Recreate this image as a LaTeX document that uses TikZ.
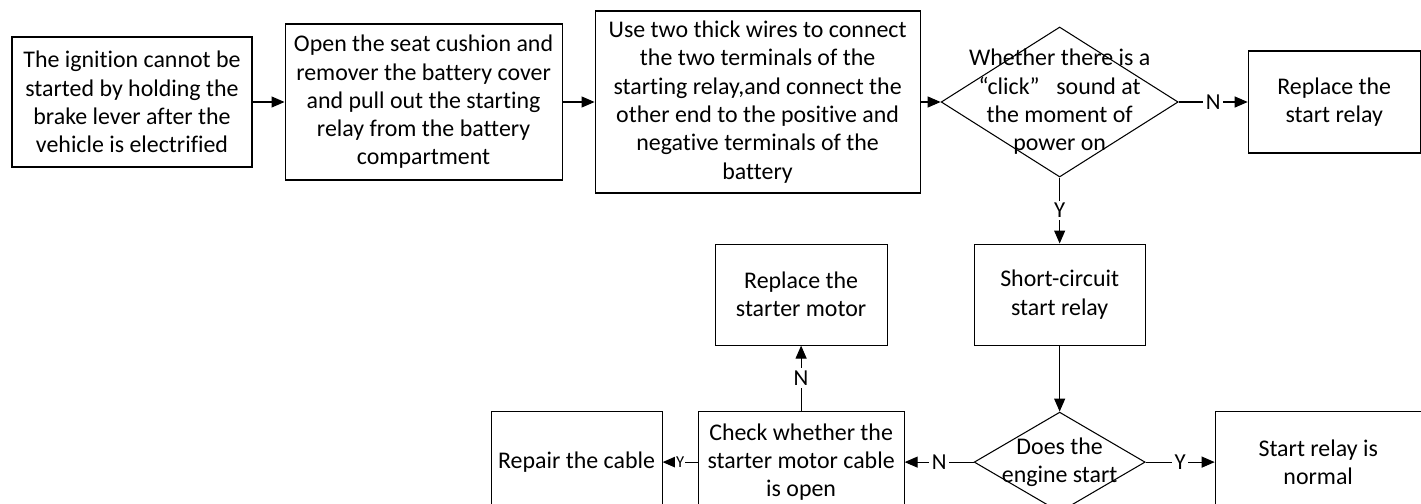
\documentclass[tikz,border=0pt]{standalone}
\usepackage{fontspec}
\setmainfont{Carlito}[Ligatures=CommonOff]
\usetikzlibrary{arrows.meta,positioning,shapes.geometric}
\newcommand{\boxfont}{\fontsize{13.6pt}{16.1pt}\selectfont}
\newcommand{\lblfont}{\fontsize{13pt}{15pt}\selectfont}
\newcommand{\smalllblfont}{\fontsize{9.5pt}{10pt}\selectfont}
\tikzset{
  procbox/.style={rectangle,draw=black,line width=0.6pt,align=center,font=\boxfont,inner sep=1pt},
  decision/.style={diamond,draw=black,line width=0.6pt,align=center,font=\boxfont,inner sep=-3cm},
  arrow/.style={-{Triangle[length=2.6mm,width=2.2mm]},line width=0.6pt,draw=black},
  lbl/.style={fill=white,inner sep=1.5pt,font=\lblfont}
}

\begin{document}
\begin{tikzpicture}[node distance=0.64cm and 0.64cm]
  \clip (0,0) rectangle (28.42,10.06);
  \node[procbox, minimum width=4.8cm, minimum height=2.6cm] (a) at (2.64,8.02) {The ignition cannot be\\started by holding the\\brake lever after the\\vehicle is electrified};
  \node[procbox, minimum width=5.54cm, minimum height=3.12cm, right=of a] (b) {Open the seat cushion and\\remover the battery cover\\and pull out the starting\\relay from the battery\\compartment};
  \node[procbox, minimum width=6.5cm, minimum height=3.64cm, right=of b] (c) {Use two thick wires to connect\\the two terminals of the\\starting relay,and connect the\\other end to the positive and\\negative terminals of the\\battery};
  \node[decision, minimum width=4.74cm, minimum height=3cm, right=0.4cm of c] (d1) {Whether there is a\\“click”\hspace{0.7em}sound at\\the moment of\\power on};
  \node[procbox, minimum width=3.44cm, minimum height=2.04cm, right=1.38cm of d1] (e) {Replace the\\start relay};
  \node[procbox, minimum width=3.42cm, minimum height=2.02cm, below=1.32cm of d1] (g) {Short-circuit\\start relay};
  \node[decision, minimum width=3.42cm, minimum height=2cm, below=1.32cm of g] (d2) {Does the\\engine start};
  \node[procbox, minimum width=4.12cm, minimum height=2.04cm, right=1.38cm of d2] (k) {Start relay is\\normal};
  \node[procbox, minimum width=4.12cm, minimum height=2.04cm, left=1.38cm of d2] (h) {Check whether the\\starter motor cable\\is open};
  \node[procbox, minimum width=3.44cm, minimum height=2.02cm, above=1.3cm of h] (f) {Replace the\\starter motor};
  \node[procbox, minimum width=3.42cm, minimum height=2.04cm, left=0.7cm of h] (i) {Repair the cable};
  \draw[arrow] (a) -- (b);
  \draw[arrow] (b) -- (c);
  \draw[arrow] (c) -- (d1);
  \draw[arrow] (d1) -- node[lbl]{N} (e);
  \draw[arrow] (d1) -- node[lbl]{Y} (g);
  \draw[arrow] (g) -- (d2);
  \draw[arrow] (d2) -- node[lbl]{Y} (k);
  \draw[arrow] (d2) -- node[lbl]{N} (h);
  \draw[arrow] (h) -- node[lbl]{N} (f);
  \draw[arrow] (h) -- node[lbl, font=\smalllblfont, inner sep=0.5pt]{Y} (i);
\end{tikzpicture}
\end{document}
